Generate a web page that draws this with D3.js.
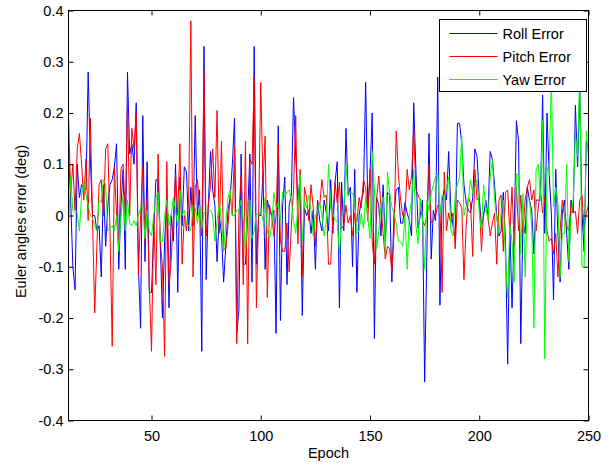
<!DOCTYPE html>
<html>
<head>
<meta charset="utf-8">
<script src="https://cdn.jsdelivr.net/npm/d3@7"></script>
<style>
  html, body { margin: 0; padding: 0; background: #fff; }
  svg { display: block; }
  text { font-family: "Liberation Sans", Arial, Helvetica, sans-serif; fill: #000; }
</style>
</head>
<body>
<svg id="chart" width="613" height="468"></svg>
<script>
// Epochs 12..250, one sample per epoch
const epochs = d3.range(12, 251);

const rollError = [
  0.125, 0.03, -0.10, -0.145, 0.10, 0.035, 0.06, 0.055, 0.05, 0.28,
  0.11, 0.0, 0.0, -0.03, -0.02, -0.12, 0.06, -0.06, 0.02, 0.06,
  0.07, 0.095, 0.14, -0.105, 0.02, 0.09, -0.105, 0.28, 0.12, 0.14,
  0.10, 0.22, -0.10, -0.22, 0.195, -0.09, 0.105, -0.15, -0.15, -0.03,
  0.07, 0.07, -0.05, -0.2, -0.05, 0.03, -0.18, 0.0, -0.05, 0.10,
  -0.15, 0.075, -0.02, 0.095, 0.085, -0.03, 0.055, -0.02, 0.195, 0.0,
  0.05, -0.265, 0.33, -0.125, 0.02, 0.125, 0.05, 0.02, -0.09, 0.0,
  -0.035, -0.13, -0.06, 0.01, 0.035, 0.1, 0.19, -0.23, -0.185, 0.12,
  -0.095, -0.095, 0.0, 0.12, -0.13, 0.33, -0.095, 0.0, 0.0, 0.08,
  -0.105, 0.03, 0.01, 0.0, 0.01, -0.23, 0.175, -0.205, 0.02, 0.075,
  -0.135, 0.02, 0.04, 0.23, 0.115, 0.03, 0.075, -0.195, 0.015, 0.0,
  0.01, -0.035, 0.01, -0.105, 0.03, -0.01, -0.03, 0.03, 0.005, -0.03,
  0.07, -0.035, 0.065, 0.105, -0.18, 0.065, -0.03, 0.17, 0.04, 0.055,
  -0.10, 0.09, -0.15, 0.0, 0.03, 0.045, 0.26, 0.015, 0.08, 0.2,
  -0.24, 0.035, 0.02, -0.04, 0.06, -0.05, 0.045, 0.04, -0.13, 0.005,
  0.05, 0.055, -0.015, -0.015, 0.025, 0.005, -0.01, -0.04, 0.22, 0.09,
  -0.025, 0.0, 0.03, -0.325, -0.08, 0.16, -0.085, 0.01, -0.01, 0.27,
  -0.175, 0.03, 0.05, 0.03, 0.125, 0.01, -0.02, -0.05, 0.18, 0.18,
  0.14, 0.06, 0.025, 0.01, 0.005, 0.035, 0.13, 0.115, 0.035, -0.02,
  0.0, 0.03, 0.0, 0.125, 0.11, 0.06, 0.0, -0.04, -0.03, 0.045,
  -0.05, -0.29, -0.02, -0.18, -0.035, 0.185, 0.145, -0.25, -0.01, -0.035,
  0.055, 0.03, 0.01, -0.075, 0.03, 0.03, 0.03, 0.235, -0.035, 0.2,
  0.08, 0.005, -0.165, 0.09, -0.035, -0.13, 0.005, 0.03, -0.035, -0.105,
  0.03, 0.005, 0.215, 0.095, 0.24, 0.005, -0.07, 0.145, 0.13
];

const pitchError = [
  0.2, 0.04, 0.10, 0.01, 0.13, 0.16, 0.10, 0.03, 0.11, -0.01,
  0.19, -0.01, -0.19, -0.06, 0.06, 0.07, 0.0, 0.13, 0.14, -0.03,
  -0.255, 0.095, 0.0, -0.06, 0.09, 0.1, 0.0, 0.22, 0.0, 0.17,
  0.13, 0.2, -0.115, 0.0, 0.095, -0.05, 0.03, -0.14, -0.265, 0.0,
  -0.135, 0.12, -0.05, -0.1, -0.275, 0.105, -0.135, -0.09, 0.0, 0.08,
  0.0, 0.14, -0.095, 0.0, -0.03, 0.03, 0.38, -0.12, 0.055, 0.07,
  0.02, -0.04, 0.28, -0.04, 0.02, 0.06, 0.13, 0.035, 0.205, -0.035,
  0.145, -0.065, -0.065, -0.02, 0.04, 0.0, 0.135, -0.25, 0.0, 0.08,
  -0.135, 0.145, -0.25, 0.11, 0.1, 0.27, -0.18, 0.0, 0.26, 0.06,
  0.155, -0.16, 0.02, 0.0, -0.04, 0.0, 0.14, -0.05, -0.07, -0.07,
  -0.015, -0.11, -0.02, 0.05, 0.195, -0.055, 0.09, -0.12, 0.055, 0.035,
  -0.01, 0.06, 0.015, -0.06, 0.025, 0.02, 0.07, 0.035, 0.04, -0.095,
  -0.095, 0.0, 0.065, 0.025, 0.065, -0.025, -0.02, 0.02, -0.015, 0.0,
  -0.04, 0.005, -0.012, 0.035, 0.015, 0.07, 0.055, -0.01, 0.09, -0.05,
  -0.095, 0.03, 0.077, 0.02, -0.035, -0.085, -0.06, -0.065, -0.11, -0.035,
  0.165, 0.08, 0.03, 0.0, 0.0, 0.09, 0.05, 0.075, 0.17, 0.05,
  0.04, 0.03, -0.01, -0.02, 0.0, 0.1, -0.015, -0.01, 0.0, 0.02,
  0.02, -0.15, 0.085, -0.03, 0.005, -0.015, 0.005, -0.065, 0.03, 0.025,
  0.015, -0.125, -0.02, 0.035, 0.025, -0.08, 0.09, 0.03, 0.035, -0.07,
  0.005, 0.01, 0.0, -0.04, -0.015, 0.005, -0.095, 0.03, 0.04, -0.07,
  0.045, 0.05, -0.035, 0.055, -0.06, 0.055, -0.03, 0.04, -0.035, 0.03,
  0.055, 0.07, 0.03, 0.05, -0.03, 0.015, 0.05, 0.005, 0.035, -0.03,
  -0.05, -0.045, -0.075, -0.035, -0.12, -0.03, 0.03, 0.0, -0.02, -0.03,
  0.025, 0.005, 0.008, -0.035, 0.03, 0.04, -0.03, 0.005, 0.02
];

const yawError = [
  -0.025, 0.075, 0.01, 0.005, 0.005, -0.03, 0.04, 0.065, 0.04, 0.02,
  0.0, -0.005, -0.02, -0.03, 0.03, 0.025, 0.07, 0.06, -0.03, -0.025,
  -0.02, -0.03, 0.0, -0.07, 0.0, 0.04, -0.03, 0.03, -0.015, -0.02,
  -0.01, -0.02, 0.0, 0.015, 0.02, -0.045, 0.01, -0.03, -0.04, 0.0,
  0.035, 0.045, -0.05, -0.05, 0.0, 0.03, -0.02, 0.0, 0.035, 0.01,
  -0.02, 0.05, 0.0, 0.01, -0.015, -0.02, -0.03, 0.02, 0.015, -0.015,
  0.02, -0.025, 0.005, 0.01, 0.01, 0.01, 0.0, -0.05, -0.01, 0.025,
  -0.01, -0.07, -0.015, 0.035, 0.05, 0.0, 0.0, 0.01, 0.01, 0.03,
  -0.01, -0.07, 0.03, 0.03, -0.045, -0.03, 0.005, 0.0, 0.01, -0.01,
  0.035, -0.03, -0.045, -0.02, 0.045, 0.015, 0.025, -0.01, 0.045, 0.038,
  0.045, 0.05, 0.03, -0.01, -0.035, 0.015, 0.08, -0.05, 0.03, 0.015,
  0.04, 0.01, -0.04, 0.0, 0.008, 0.025, 0.0, -0.04, -0.01, 0.1,
  0.012, 0.004, -0.01, -0.01, -0.075, 0.0, 0.01, 0.1, 0.037, 0.046,
  0.043, 0.03, -0.035, -0.03, 0.004, -0.025, 0.037, -0.005, -0.045, 0.125,
  0.053, -0.065, -0.03, 0.017, 0.036, -0.075, 0.085, 0.043, 0.017, 0.004,
  -0.015, -0.05, -0.051, -0.06, 0.0, -0.105, 0.0, 0.03, 0.09, -0.02,
  -0.055, 0.033, -0.002, -0.105, 0.03, 0.01, 0.043, 0.06, 0.075, 0.082,
  0.004, 0.04, 0.03, 0.053, 0.075, -0.028, -0.04, 0.043, 0.06, 0.075,
  0.155, 0.0, 0.017, 0.03, 0.07, 0.043, 0.055, 0.07, 0.004, -0.03,
  0.06, 0.017, -0.01, 0.075, 0.11, 0.03, -0.005, -0.035, 0.004, 0.03,
  -0.085, -0.16, -0.02, -0.05, -0.13, 0.08, 0.08, -0.075, 0.043, -0.12,
  0.03, 0.03, -0.02, -0.22, 0.09, 0.1, 0.03, 0.185, -0.28, 0.095,
  0.08, 0.27, 0.017, 0.055, 0.024, -0.12, -0.035, -0.035, 0.1, -0.09,
  0.0, 0.03, 0.16, 0.115, 0.28, -0.1, -0.1, 0.165, 0.11
];

const seriesNames = ["Roll Error", "Pitch Error", "Yaw Error"];
const seriesColors = ["#0000ff", "#ff0000", "#00ff00"];

const xTickValues = [50, 100, 150, 200, 250];
const xTickLabels = ["50", "100", "150", "200", "250"];
const yTickValues = [-0.4, -0.3, -0.2, -0.1, 0, 0.1, 0.2, 0.3, 0.4];
const yTickLabels = ["-0.4", "-0.3", "-0.2", "-0.1", "0", "0.1", "0.2", "0.3", "0.4"];

const xLabel = "Epoch";
const yLabel = "Euler angles error (deg)";

// Plot box
const box = { left: 68.5, right: 588.5, top: 10.5, bottom: 420.5 };
const fontSize = 14.5;

const svg = d3.select("#chart");

const x = d3.scaleLinear().domain([epochs[0], epochs[epochs.length - 1]]).range([box.left, box.right]);
const y = d3.scaleLinear().domain([-0.4, 0.4]).range([box.bottom, box.top]);

svg.append("defs").append("clipPath").attr("id", "plotClip")
  .append("rect")
  .attr("x", box.left).attr("y", box.top)
  .attr("width", box.right - box.left).attr("height", box.bottom - box.top);

// Data lines (roll, pitch, yaw drawn in that order)
const line = d3.line().x((d, i) => x(epochs[i])).y(d => y(d));
const plotG = svg.append("g").attr("clip-path", "url(#plotClip)");
[rollError, pitchError, yawError].forEach((vals, k) => {
  plotG.append("path")
    .datum(vals)
    .attr("d", line)
    .attr("fill", "none")
    .attr("stroke", seriesColors[k])
    .attr("stroke-width", 1)
    .attr("stroke-linejoin", "round");
});

// Axes with inward ticks on all four sides
const tickLen = 5;
function styleAxis(g) {
  g.selectAll("path.domain").remove();
  g.selectAll(".tick line").attr("stroke", "#000").attr("stroke-width", 1);
  g.selectAll(".tick text")
    .attr("font-size", fontSize)
    .attr("font-family", "'Liberation Sans', Arial, sans-serif")
    .attr("fill", "#000");
}

svg.append("g")
  .attr("transform", `translate(0,${box.bottom})`)
  .call(d3.axisBottom(x).tickValues(xTickValues)
    .tickFormat((d, i) => xTickLabels[i]).tickSize(-tickLen).tickPadding(10))
  .call(styleAxis);

svg.append("g")
  .attr("transform", `translate(0,${box.top})`)
  .call(d3.axisTop(x).tickValues(xTickValues).tickFormat("").tickSize(-tickLen))
  .call(styleAxis);

svg.append("g")
  .attr("transform", `translate(${box.left},0)`)
  .call(d3.axisLeft(y).tickValues(yTickValues)
    .tickFormat((d, i) => yTickLabels[i]).tickSize(-tickLen).tickPadding(5))
  .call(styleAxis);

svg.append("g")
  .attr("transform", `translate(${box.right},0)`)
  .call(d3.axisRight(y).tickValues(yTickValues).tickFormat("").tickSize(-tickLen))
  .call(styleAxis);

// Box outline
svg.append("rect")
  .attr("x", box.left).attr("y", box.top)
  .attr("width", box.right - box.left).attr("height", box.bottom - box.top)
  .attr("fill", "none").attr("stroke", "#000").attr("stroke-width", 1);

// Axis titles
svg.append("text")
  .attr("x", (box.left + box.right) / 2)
  .attr("y", 458)
  .attr("text-anchor", "middle")
  .attr("font-size", fontSize)
  .text(xLabel);

svg.append("text")
  .attr("transform", `translate(26,${(box.top + box.bottom) / 2 + 6}) rotate(-90)`)
  .attr("text-anchor", "middle")
  .attr("font-size", fontSize)
  .text(yLabel);

// Legend
const legend = { left: 439.5, top: 19.5, width: 147, height: 72, rowGap: 23 };
const lg = svg.append("g");
lg.append("rect")
  .attr("x", legend.left).attr("y", legend.top)
  .attr("width", legend.width).attr("height", legend.height)
  .attr("fill", "#fff").attr("stroke", "#000").attr("stroke-width", 1);
seriesNames.forEach((name, k) => {
  const cy = legend.top + 14 + k * legend.rowGap;
  lg.append("line")
    .attr("x1", legend.left + 10).attr("x2", legend.left + 58)
    .attr("y1", cy).attr("y2", cy)
    .attr("stroke", seriesColors[k]).attr("stroke-width", 1);
  lg.append("text")
    .attr("x", legend.left + 63)
    .attr("y", cy + 5)
    .attr("font-size", fontSize)
    .text(name);
});
</script>
</body>
</html>
